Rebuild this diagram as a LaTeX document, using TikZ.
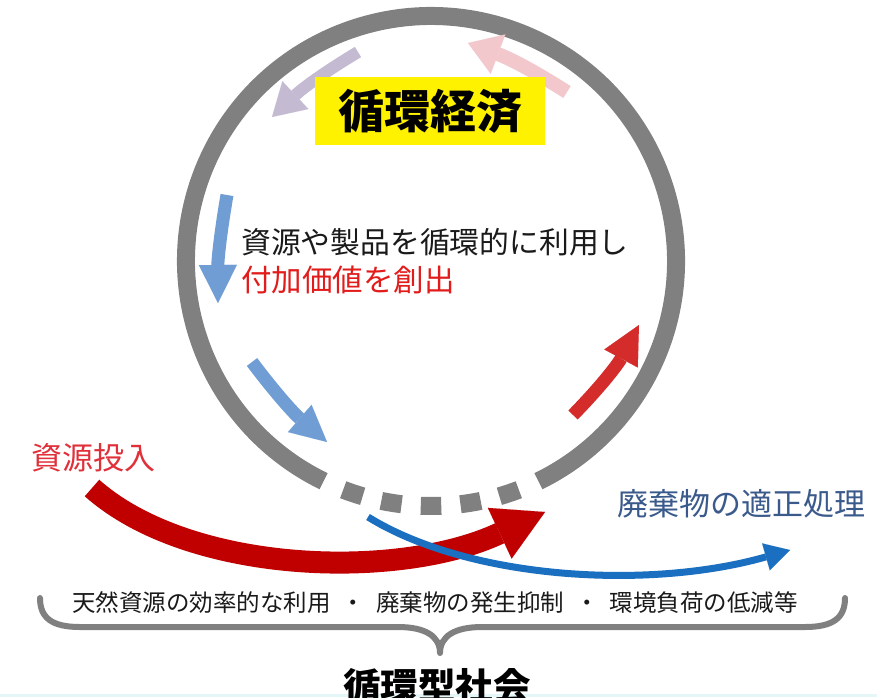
\documentclass[tikz,border=0pt]{standalone}
\usepackage{fontspec}
\newfontfamily\jp{Noto Sans CJK JP}
\usetikzlibrary{arrows.meta}
\definecolor{ringgray}{HTML}{808080}
\definecolor{fadepurple}{HTML}{C4BAD2}
\definecolor{fadepink}{HTML}{F2C8CC}
\definecolor{softblue}{HTML}{6F9DD4}
\definecolor{midred}{HTML}{D42B2B}
\definecolor{deepred}{HTML}{C00000}
\definecolor{lineblue}{HTML}{1A6FC0}
\definecolor{textred}{HTML}{E21B1B}
\definecolor{labelred}{HTML}{E0303A}
\definecolor{slateblue}{HTML}{3B5A8C}
\definecolor{textblack}{HTML}{1A1A1A}
\definecolor{bottomcyan}{HTML}{E4F6F8}
\newcommand\setfs[1]{\fontsize{#1}{#1}\selectfont}
\tikzset{
  blockarrow/.style n args={4}{draw=#1, line width=#2, line cap=butt,
    -{Triangle[width=#3, length=#4, line width=0.01pt]}},
  txt/.style={inner sep=0pt, font=\jp},
  ringseg/.style={draw=ringgray, line width=18pt, line cap=butt},
}
\begin{document}
\begin{tikzpicture}[x=1pt,y=-1pt]
\useasboundingbox (0,0) rectangle (877,697);
\fill[white] (0,0) rectangle (877,697);
\fill[bottomcyan] (0,694) rectangle (877,697);

% ring
\coordinate (C) at (431,261);
\draw[ringseg] (C) ++(116:245) arc[start angle=116, end angle=424, radius=245];
\foreach \a in {71.4,80.7,90,99.3,108.6}{
  \draw[ringseg] (C) ++(\a-2.4:245) arc[start angle=\a-2.4, end angle=\a+2.4, radius=245];
}

% arrows inside the ring
\coordinate (p1) at (358,52);  \coordinate (p2) at (272,117);
\draw[blockarrow={fadepurple}{12pt}{38pt}{32pt}] (p1) to[bend right=6] (p2);
\coordinate (k1) at (567,92);  \coordinate (k2) at (468,43);
\draw[blockarrow={fadepink}{14pt}{42pt}{32pt}] (k1) to[bend right=6] (k2);
\coordinate (b1) at (227,195); \coordinate (b2) at (218,303);
\draw[blockarrow={softblue}{13pt}{38pt}{38pt}] (b1) to[bend right=5] (b2);
\coordinate (c1) at (252,362); \coordinate (c2) at (327,442);
\draw[blockarrow={softblue}{13pt}{36pt}{36pt}] (c1) to[bend right=6] (c2);
\coordinate (r1) at (573,415); \coordinate (r2) at (639,325);
\draw[blockarrow={midred}{13pt}{38pt}{38pt}] (r1) to[bend right=8] (r2);

% big red input arrow
\coordinate (in1) at (92,488); \coordinate (in2) at (545,512);
\draw[blockarrow={deepred}{22pt}{56pt}{50pt}] (in1) .. controls (190,575) and (400,580) .. (in2);

% blue output line
\coordinate (o1) at (368,517); \coordinate (o2) at (790,550);
\draw[blockarrow={lineblue}{7pt}{28pt}{25pt}] (o1) .. controls (470,580) and (650,590) .. (o2);

% title box
\node[fill=yellow, minimum width=230pt, minimum height=68pt, inner sep=0pt,
      font=\jp\bfseries\setfs{46pt}, text=black] (title) at (430,111) {循環経済};

% texts
\node[txt, anchor=west, text=textblack, font=\jp\setfs{29.8pt}] (l1) at (241,242) {資源や製品を循環的に利用し};
\node[txt, anchor=west, text=textred, font=\jp\setfs{30.5pt}] (l2) at (241,280) {付加価値を創出};
\node[txt, anchor=west, text=labelred, font=\jp\setfs{31pt}] (inp) at (31,458) {資源投入};
\node[txt, anchor=west, text=slateblue, font=\jp\setfs{31pt}] (outp) at (617,504) {廃棄物の適正処理};
\node[txt, anchor=west, text=textblack, font=\jp\setfs{23.5pt}] (eff) at (72,603) {天然資源の効率的な利用\hspace{11pt}・\hspace{11pt}廃棄物の発生抑制\hspace{11pt}・\hspace{11pt}環境負荷の低減等};

% brace
\coordinate (bl) at (40,598); \coordinate (bm) at (440,653); \coordinate (br) at (845,598);
\draw[draw=ringgray, line width=6pt, line cap=round, line join=round]
  (bl) .. controls (40,618) and (52,627) .. (80,627) -- (398,627)
  .. controls (425,627) and (440,636) .. (bm)
  .. controls (440,636) and (455,627) .. (482,627) -- (805,627)
  .. controls (833,627) and (845,618) .. (br);

\node[txt, text=black, font=\jp\bfseries\setfs{37.5pt}] (soc) at (437,686) {循環型社会};
\end{tikzpicture}
\end{document}
